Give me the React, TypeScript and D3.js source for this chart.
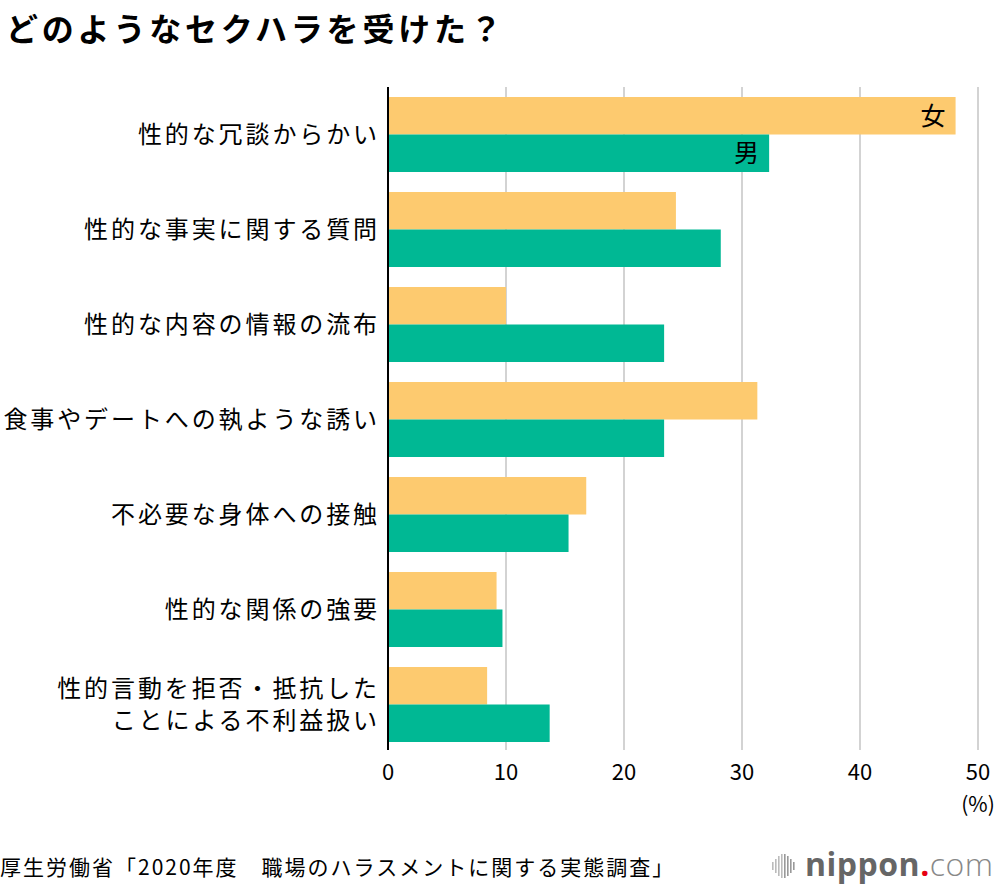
import React from 'react';
import * as d3 from 'd3';

const categories = [
  ['性的な冗談からかい'],
  ['性的な事実に関する質問'],
  ['性的な内容の情報の流布'],
  ['食事やデートへの執ような誘い'],
  ['不必要な身体への接触'],
  ['性的な関係の強要'],
  ['性的言動を拒否・抵抗した', 'ことによる不利益扱い'],
];
const women = [48.1, 24.4, 10.0, 31.3, 16.8, 9.2, 8.4];
const men = [32.3, 28.2, 23.4, 23.4, 15.3, 9.7, 13.7];
const xTicks = [0, 10, 20, 30, 40, 50];
const seriesKeys = ['女', '男'];
const colors = ['#fdca6f', '#00b894'];

const FONT = '"Noto Sans CJK JP", "Noto Sans", sans-serif';

export default function App() {
  const width = 1000;
  const height = 890;
  const left = 388;
  const right = 978;
  const top = 87;
  const bottom = 752;

  const x = d3.scaleLinear().domain([0, 50]).range([left, right]);
  const y = d3.scaleBand<number>().domain(d3.range(categories.length)).range([top, bottom]).paddingInner(20 / 95).paddingOuter(10 / 95);
  const sub = d3.scaleBand<string>().domain(seriesKeys).range([0, y.bandwidth()]);
  const values = [women, men];

  return (
    <svg width={width} height={height} style={{ position: 'absolute', left: 0, top: 0, fontFamily: FONT }}>
      <rect width={width} height={height} fill="#fff" />
      <text x={6} y={41} fontSize={32} fontWeight={700} letterSpacing={3.8} fill="#000">どのようなセクハラを受けた？</text>

      {xTicks.slice(1).map(t => (
        <line key={t} x1={x(t)} x2={x(t)} y1={top} y2={bottom - 2} stroke="#d3d3d3" strokeWidth={2} />
      ))}

      {categories.map((lines, i) => (
        <g key={i}>
          {seriesKeys.map((k, s) => (
            <rect key={k} x={x(0)} y={(y(i) ?? 0) + (sub(k) ?? 0)} width={x(values[s][i]) - x(0)} height={sub.bandwidth()} fill={colors[s]} />
          ))}
          {lines.map((ln, j) => (
            <text
              key={j}
              x={380}
              y={(y(i) ?? 0) + y.bandwidth() / 2 + (j - (lines.length - 1) / 2) * 32}
              dy="0.36em"
              textAnchor="end"
              fontSize={24}
              letterSpacing={2.9}
              fill="#000"
            >{ln}</text>
          ))}
        </g>
      ))}

      {seriesKeys.map((k, s) => (
        <text key={k} x={x(values[s][0]) - 10} y={(y(0) ?? 0) + (sub(k) ?? 0) + sub.bandwidth() / 2} dy="0.36em" textAnchor="end" fontSize={25} fill="#000">{k}</text>
      ))}

      <line x1={x(0)} x2={x(0)} y1={top} y2={bottom - 2} stroke="#000" strokeWidth={2} />

      {xTicks.map(t => (
        <text key={t} x={x(t)} y={772} dy="0.36em" textAnchor="middle" fontSize={22} fill="#000">{t}</text>
      ))}
      <text x={x(50)} y={804} dy="0.36em" textAnchor="middle" fontSize={21} fill="#000">(%)</text>

      <text x={0} y={875} fontSize={21} letterSpacing={2} fill="#000">厚生労働省「2020年度　職場のハラスメントに関する実態調査」</text>

      <g transform="translate(772,852)">
        {[0, 3, 6, 9, 12, 15, 18, 21].map((dx, i) => {
          const h = [8, 14, 20, 24, 24, 20, 14, 8][i];
          return <rect key={i} x={dx} y={14 - h / 2} width={1.6} height={h} fill={i < 4 ? '#bbb' : '#999'} />;
        })}
      </g>
      <text x={805} y={876} fontSize={32} fontFamily='"Open Sans", "DejaVu Sans", sans-serif' letterSpacing={0.5}>
        <tspan fontWeight={700} fill="#666">nippon</tspan>
        <tspan fill="#e60012" fontWeight={700}>.</tspan>
        <tspan fill="#888" fontWeight={300}>com</tspan>
      </text>
    </svg>
  );
}
